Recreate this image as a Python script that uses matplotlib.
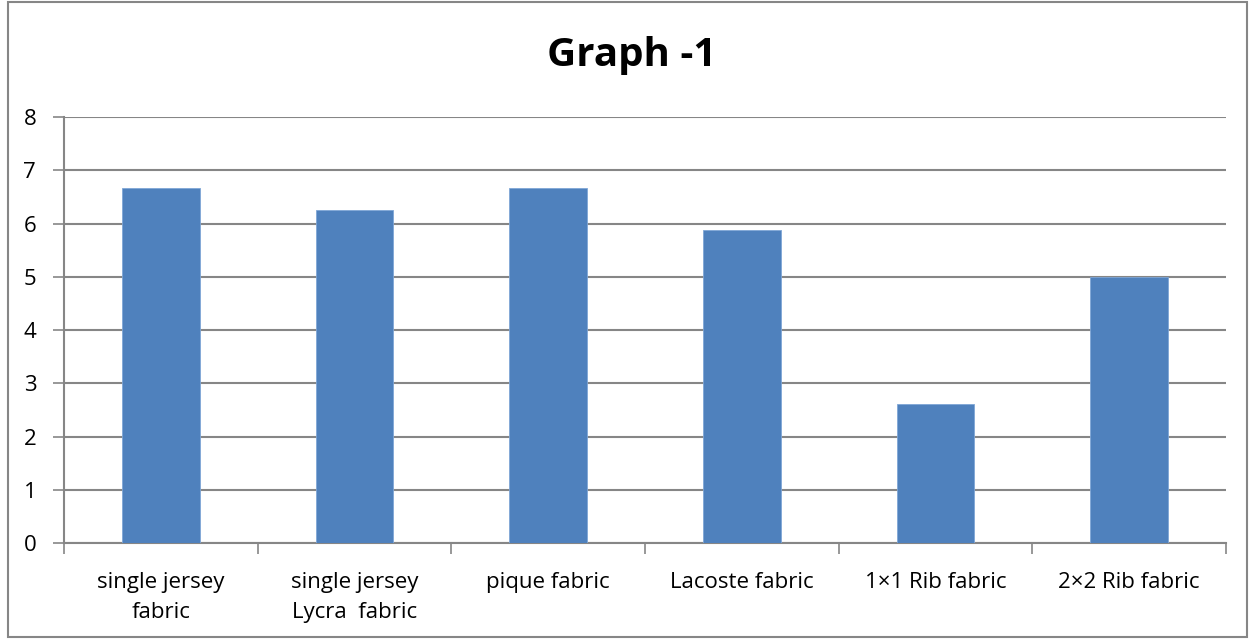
import numpy as np
import matplotlib.pyplot as plt
from matplotlib.patches import Rectangle

plt.rcParams['font.family'] = ['Open Sans', 'DejaVu Sans']

fabrics = ["single jersey\nfabric", "single jersey\nLycra  fabric", "pique fabric",
           "Lacoste fabric", "1×1 Rib fabric", "2×2 Rib fabric"]
values = [6.67, 6.25, 6.67, 5.87, 2.62, 5.0]

grid_col = "#868686"
bar_col = "#4f81bd"

fig = plt.figure(figsize=(12.5, 6.39), dpi=100)
ax = fig.add_axes([0.0512, 0.1502, 0.9296, 0.6667])

x = np.arange(len(fabrics))
ax.bar(x, values, width=0.4, color=bar_col, edgecolor="#7fa6d6", linewidth=0.6, zorder=3)

ax.set_xlim(-0.5, len(fabrics) - 0.5)
ax.set_ylim(0, 8)
ax.set_yticks(range(0, 9))
ax.yaxis.grid(True, color=grid_col, linewidth=1.5, zorder=0)

# category labels centred, tick marks on the boundaries
ax.set_xticks(x)
ax.set_xticklabels(fabrics, fontsize=16, linespacing=1.55)
ax.tick_params(axis="x", length=0, pad=21)
ax.set_xticks(np.arange(-0.5, len(fabrics)), minor=True)
ax.tick_params(axis="x", which="minor", length=8, width=1.2, color=grid_col)
ax.tick_params(axis="y", length=8, width=1.2, color=grid_col, labelsize=16, pad=12)

for s in ["top", "right"]:
    ax.spines[s].set_visible(False)
for s in ["left", "bottom"]:
    ax.spines[s].set_color(grid_col)
    ax.spines[s].set_linewidth(1.5)

fig.text(0.505, 0.913, "Graph -1", ha="center", va="center", fontsize=29, fontweight="bold")

# chart frame
fig.patches.append(Rectangle((0.0065, 0.003), 0.991, 0.994, transform=fig.transFigure,
                             fill=False, edgecolor=grid_col, linewidth=1.5))

fig.savefig("out.png", dpi=100)
